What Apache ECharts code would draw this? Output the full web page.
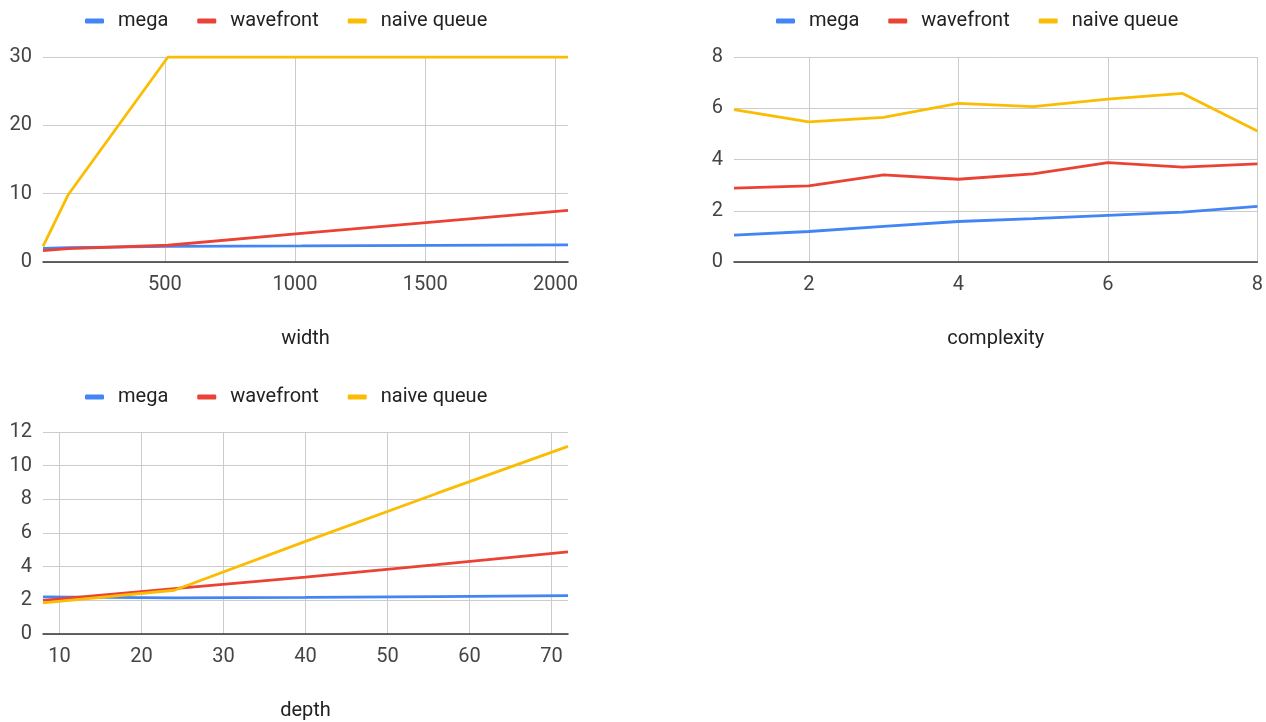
<!DOCTYPE html>
<html>
<head>
<meta charset="utf-8">
<script src="https://cdn.jsdelivr.net/npm/echarts@6/dist/echarts.min.js"></script>
<style>html,body{margin:0;padding:0;background:#fff}#c{width:1266px;height:722px}</style>
</head>
<body>
<div id="c"></div>
<script>
// ---- data ----
const seriesNames = ['mega', 'wavefront', 'naive queue'];
const seriesColors = ['#4285F4', '#EA4335', '#FBBC04'];

const widths = [32, 128, 512, 1024, 2048];
const widthMega = [2.0, 2.1, 2.3, 2.35, 2.5];
const widthWavefront = [1.65, 1.95, 2.45, 4.2, 7.55];
const widthNaive = [2.3, 9.8, 30, 30, 30];
const widthTicks = [500, 1000, 1500, 2000];

const complexity = [1, 2, 3, 4, 5, 6, 7, 8];
const complexityMega = [1.05, 1.19, 1.39, 1.58, 1.69, 1.82, 1.95, 2.17];
const complexityWavefront = [2.88, 2.97, 3.40, 3.23, 3.44, 3.88, 3.70, 3.83];
const complexityNaive = [5.95, 5.47, 5.64, 6.19, 6.06, 6.36, 6.58, 5.11];
const complexityTicks = [2, 4, 6, 8];

const depths = [8, 24, 40, 56, 72];
const depthMega = [2.2, 2.15, 2.17, 2.22, 2.28];
const depthWavefront = [2.0, 2.7, 3.38, 4.12, 4.88];
const depthNaive = [1.85, 2.6, 5.5, 8.35, 11.15];
const depthTicks = [10, 20, 30, 40, 50, 60, 70];

// ---- chart ----
const FONT = 'Roboto, Arial, sans-serif';
const FS = 20;
const zip = (xs, ys) => xs.map((x, i) => [x, ys[i]]);

function legend(left, top) {
  return {
    left: left, top: top, padding: 0,
    icon: 'roundRect', itemWidth: 19, itemHeight: 5, itemGap: 29,
    data: seriesNames,
    textStyle: { fontFamily: FONT, fontSize: FS, color: '#222', padding: [0, 0, 0, 9] }
  };
}
function xAxis(idx, min, max, ticks, name) {
  const ax = {
    type: 'value', gridIndex: idx, min: min, max: max,
    axisLine: { show: true, onZero: false, lineStyle: { color: '#333', width: 1.5 } },
    axisTick: { show: false, customValues: ticks },
    axisLabel: { customValues: ticks, formatter: v => String(v), fontFamily: FONT, fontSize: FS, color: '#444', margin: 13 },
    splitLine: { show: true, lineStyle: { color: '#ccc', width: 1 } }
  };
  if (name) {
    ax.name = name; ax.nameLocation = 'middle'; ax.nameGap = 67;
    ax.nameTextStyle = { fontFamily: FONT, fontSize: FS, color: '#222' };
  }
  return ax;
}
function yAxis(idx, max, interval) {
  return {
    type: 'value', gridIndex: idx, min: 0, max: max, interval: interval,
    axisLine: { show: false }, axisTick: { show: false },
    axisLabel: { fontFamily: FONT, fontSize: FS, color: '#444', margin: 11 },
    splitLine: { show: true, lineStyle: { color: '#ccc', width: 1 } }
  };
}
function line(idx, k, data) {
  return {
    type: 'line', name: seriesNames[k], xAxisIndex: idx, yAxisIndex: idx,
    data: data, showSymbol: false, symbol: 'none',
    lineStyle: { width: 2.8, color: seriesColors[k] },
    itemStyle: { color: seriesColors[k] },
    emphasis: { disabled: true }
  };
}

const chart = echarts.init(document.getElementById('c'), null, { renderer: 'canvas' });
chart.setOption({
  animation: false,
  color: seriesColors,
  legend: [legend(85, 11), legend(776, 11), legend(85, 387)],
  grid: [
    { left: 43, top: 57, width: 525, height: 205 },
    { left: 734, top: 57, width: 525, height: 205 },
    { left: 43, top: 432, width: 525, height: 205 }
  ],
  xAxis: [
    xAxis(0, 32, 2048, widthTicks, 'width'),
    xAxis(1, 1, 8, complexityTicks, 'complexity'),
    xAxis(2, 8, 72, depthTicks, 'depth')
  ],
  yAxis: [yAxis(0, 30, 10), yAxis(1, 8, 2), yAxis(2, 12, 2)],
  series: [
    line(0, 0, zip(widths, widthMega)),
    line(0, 1, zip(widths, widthWavefront)),
    line(0, 2, zip(widths, widthNaive)),
    line(1, 0, zip(complexity, complexityMega)),
    line(1, 1, zip(complexity, complexityWavefront)),
    line(1, 2, zip(complexity, complexityNaive)),
    line(2, 0, zip(depths, depthMega)),
    line(2, 1, zip(depths, depthWavefront)),
    line(2, 2, zip(depths, depthNaive))
  ]
});
</script>
</body>
</html>
